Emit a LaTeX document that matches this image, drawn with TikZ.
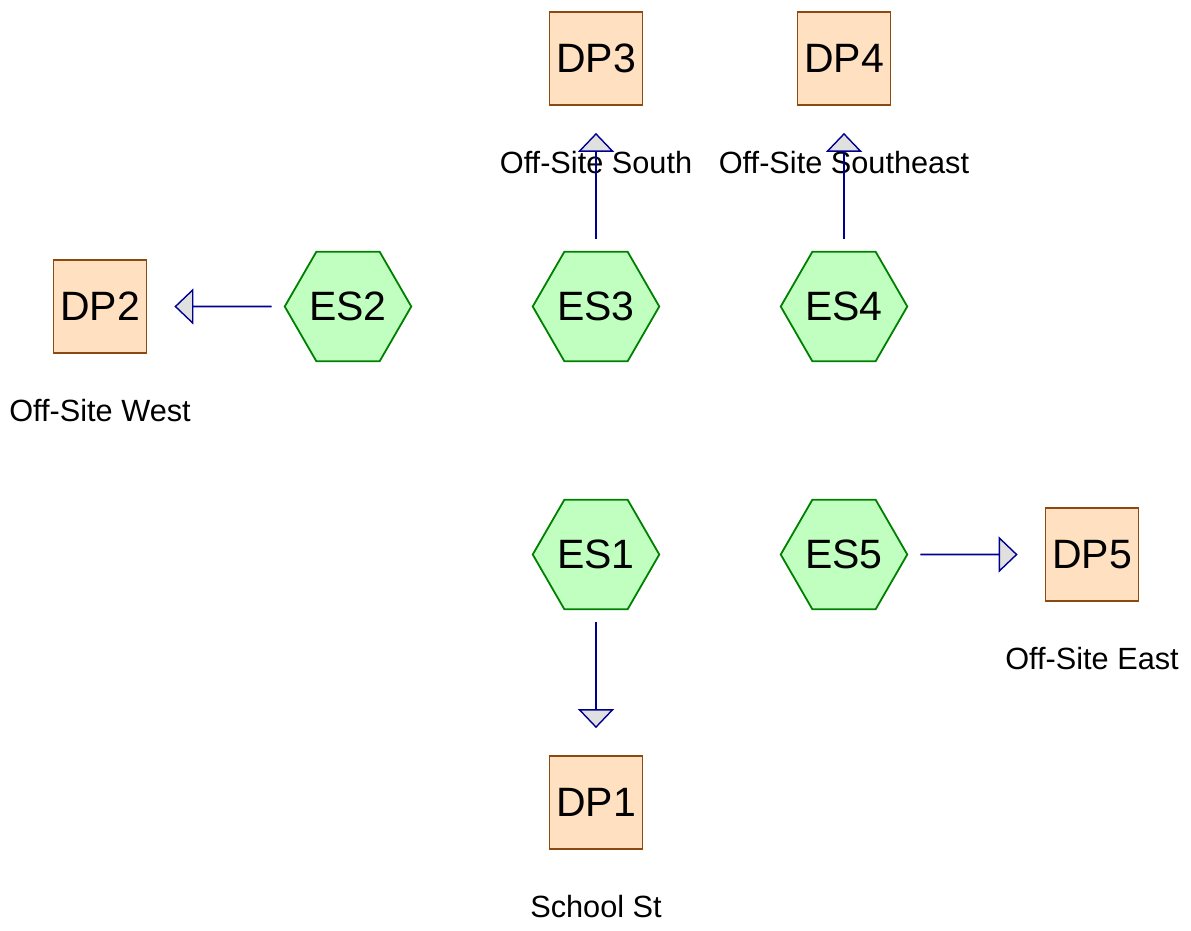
\documentclass[tikz,border=0pt]{standalone}
\usepackage{fontspec}
\setmainfont{Liberation Sans}
\usetikzlibrary{arrows.meta,shapes.geometric,positioning}

\definecolor{esfill}{HTML}{C0FFC0}
\definecolor{esdraw}{HTML}{008000}
\definecolor{dpfill}{HTML}{FFE0C0}
\definecolor{dpdraw}{HTML}{8B4A10}
\definecolor{flow}{HTML}{000090}

\begin{document}
\begin{tikzpicture}[x=1pt, y=-1pt, node distance=248pt]
\tikzstyle{hexa}=[regular polygon, regular polygon sides=6, minimum size=126pt, inner sep=0pt, fill=esfill, draw=esdraw, line width=1.8pt, font=\fontsize{41}{48}\selectfont]
\tikzstyle{dp}=[rectangle, minimum size=93pt, inner sep=0pt, fill=dpfill, draw=dpdraw, line width=1.8pt, font=\fontsize{41}{48}\selectfont]
\tikzstyle{lbl}=[font=\fontsize{30.7}{36}\selectfont, inner sep=0pt]
\tikzstyle{flowline}=[draw=flow, line width=1.8pt, shorten <=12pt, shorten >=27pt, -{Triangle[length=19pt,width=36pt,fill=black!12,line width=1.4pt]}]
\useasboundingbox (0,0) rectangle (1191,931);
% release points
\node[hexa] (ES3) at (596,306.5) {ES3};
\node[hexa] (ES4) [right of=ES3] {ES4};
\node[hexa] (ES2) [left of=ES3] {ES2};
\node[hexa] (ES1) [below of=ES3] {ES1};
\node[hexa] (ES5) [right of=ES1] {ES5};
% discharge points
\node[dp] (DP3) [above of=ES3] {DP3};
\node[dp] (DP4) [above of=ES4] {DP4};
\node[dp] (DP2) [left of=ES2] {DP2};
\node[dp] (DP1) [below of=ES1] {DP1};
\node[dp] (DP5) [right of=ES5] {DP5};
% names
\node[lbl] (L3) [below of=DP3, node distance=104pt] {Off-Site South};
\node[lbl] (L4) [below of=DP4, node distance=104pt] {Off-Site Southeast};
\node[lbl] (L2) [below of=DP2, node distance=104pt] {Off-Site West};
\node[lbl] (L1) [below of=DP1, node distance=104pt] {School St};
\node[lbl] (L5) [below of=DP5, node distance=104pt] {Off-Site East};
\path[flowline] (ES3) -- (DP3);
\path[flowline] (ES4) -- (DP4);
\path[flowline] (ES2) -- (DP2);
\path[flowline] (ES1) -- (DP1);
\path[flowline] (ES5) -- (DP5);
\end{tikzpicture}
\end{document}
